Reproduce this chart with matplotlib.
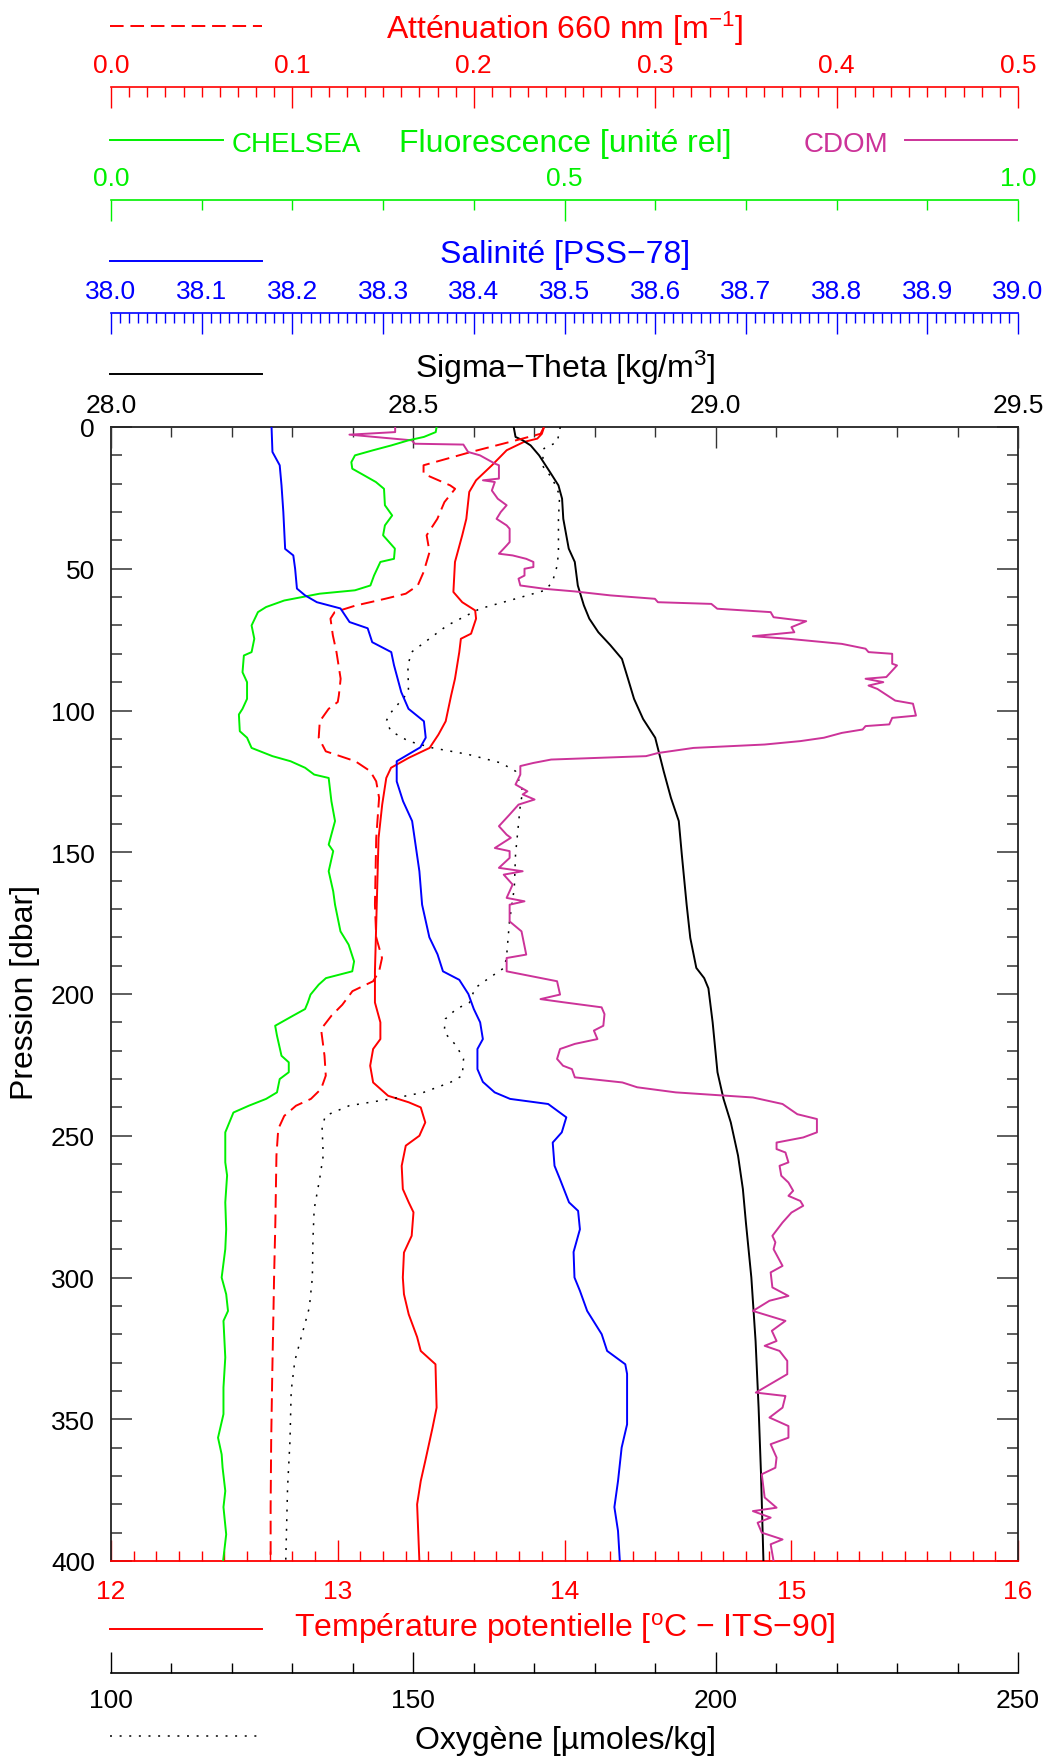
import matplotlib
matplotlib.use('Agg')
import matplotlib.pyplot as plt
from matplotlib.lines import Line2D
from matplotlib.ticker import MultipleLocator, FormatStrFormatter

plt.rcParams['font.family'] = ['Liberation Sans', 'DejaVu Sans']
plt.rcParams['mathtext.fontset'] = 'custom'
plt.rcParams['mathtext.rm'] = 'Liberation Sans'
plt.rcParams['mathtext.it'] = 'Liberation Sans:italic'
plt.rcParams['mathtext.bf'] = 'Liberation Sans:bold'

# --- profile data (pressure in dbar) ---
p_temp = [0, 2.4, 4.1, 5.3, 8.2, 13.5, 18.8, 22.9, 32.4, 38.2, 47.6, 58.2, 61.8, 64.7, 67.6, 72.9, 74.7,
          79.4, 88.8, 94.7, 103.8, 108.5, 113.2, 116.7, 120.2, 123.8, 133.2, 145, 168.5, 192, 203, 210,
          215.9, 219.4, 225.3, 231.2, 235.9, 238.2, 240, 245.3, 250, 253.5, 260.6, 268.8, 273.5, 277,
          285.3, 291.2, 300, 305.9, 313, 321, 325.9, 330.6, 345.9, 353, 364.7, 371.8, 380, 400]
temp = [13.91, 13.90, 13.88, 13.82, 13.745, 13.68, 13.61, 13.58, 13.567, 13.549, 13.517, 13.51, 13.549,
        13.606, 13.61, 13.588, 13.543, 13.536, 13.517, 13.50, 13.476, 13.444, 13.405, 13.313, 13.235,
        13.214, 13.196, 13.18, 13.172, 13.164, 13.164, 13.188, 13.188, 13.156, 13.143, 13.156, 13.222,
        13.313, 13.366, 13.386, 13.36, 13.30, 13.282, 13.287, 13.313, 13.334, 13.326, 13.292, 13.287,
        13.292, 13.313, 13.35, 13.366, 13.431, 13.436, 13.418, 13.386, 13.366, 13.35, 13.36]

p_sal = [0, 8.8, 13.5, 20.6, 30, 43, 45.3, 50, 57, 59.4, 61.8, 64, 68.8, 71, 75.9, 79.4, 84, 93.5, 99.4,
         103.8, 109.6, 113, 117.9, 125, 132, 139, 156.7, 168.5, 180, 186, 192, 195, 198, 200, 205.3, 210,
         215.9, 219.4, 226.5, 231, 234.7, 237, 238.8, 243.5, 248.8, 252.4, 260.6, 265.3, 273.5, 276.5,
         283, 291, 300, 304.7, 311.8, 320, 325.9, 330.6, 334, 351.8, 360, 371.8, 381, 389.4, 400]
sal = [38.177, 38.178, 38.186, 38.188, 38.190, 38.192, 38.201, 38.203, 38.205, 38.214, 38.227, 38.253,
       38.263, 38.283, 38.288, 38.309, 38.312, 38.320, 38.328, 38.345, 38.347, 38.341, 38.315, 38.315,
       38.322, 38.332, 38.340, 38.343, 38.351, 38.360, 38.366, 38.384, 38.390, 38.394, 38.400, 38.407,
       38.410, 38.404, 38.404, 38.410, 38.423, 38.440, 38.482, 38.502, 38.497, 38.487, 38.489, 38.495,
       38.505, 38.515, 38.517, 38.510, 38.511, 38.517, 38.525, 38.541, 38.547, 38.567, 38.569, 38.569,
       38.563, 38.559, 38.555, 38.559, 38.561]

p_sig = [0, 3.5, 4.7, 6.5, 10, 15.9, 20.6, 25.3, 32.4, 42.9, 47.6, 55.9, 62.9, 67.6, 72.4, 77, 81.8, 88.8,
         95.9, 103, 109.6, 121.4, 130.8, 139, 150.8, 168.5, 180.2, 190.8, 194.4, 198, 210, 227.6, 237,
         245.3, 257, 268.8, 280.6, 300, 322.4, 345.9, 369.4, 400]
sigma = [28.666, 28.669, 28.681, 28.694, 28.708, 28.726, 28.740, 28.746, 28.748, 28.757, 28.767, 28.772,
         28.782, 28.791, 28.806, 28.826, 28.845, 28.855, 28.865, 28.880, 28.900, 28.914, 28.926, 28.939,
         28.944, 28.952, 28.958, 28.968, 28.981, 28.988, 28.995, 29.003, 29.013, 29.025, 29.037, 29.045,
         29.050, 29.059, 29.066, 29.071, 29.075, 29.079]

p_oxy = [0, 5.3, 7.6, 13.5, 18.2, 24.1, 32.4, 44.1, 48.8, 54.7, 57.6, 60.6, 64.1, 70, 79.4, 84.1, 93.5,
         98.2, 101.2, 103.8, 107.3, 110.8, 113.2, 115.5, 118.5, 121.4, 128.5, 133.2, 150.8, 162.6, 174.4,
         187.3, 190.8, 194.4, 197.9, 203, 205.3, 208.8, 213.5, 218.2, 222.9, 228.8, 231.2, 234.7, 237,
         239.4, 242.9, 246.5, 257, 265.3, 275.9, 286.5, 300, 310.6, 320, 329.4, 340, 357.6, 374.1, 400]
oxy = [174.3, 173.8, 171.6, 171.3, 173.0, 174.2, 174.0, 174.0, 173.8, 173.0, 171.8, 166.9, 161.0, 155.6,
       149.7, 149.1, 149.2, 147.3, 146.1, 145.5, 146.3, 149.2, 153.2, 159.1, 164.5, 166.9, 168.1, 167.7,
       166.9, 166.7, 165.9, 165.4, 165.0, 162.5, 160.2, 159.3, 157.1, 155.3, 155.1, 157.1, 158.3, 158.1,
       156.1, 151.7, 146.3, 139.4, 135.5, 134.9, 135.1, 134.5, 133.6, 133.4, 133.3, 132.8, 131.6, 130.4,
       129.8, 129.6, 129.2, 128.9]

p_att = [0, 2.4, 5.3, 8.8, 13.5, 16.5, 20.6, 21.8, 26.5, 32.4, 38.2, 44.1, 51.2, 55.9, 58.8, 60.6, 63.0,
         65.3, 67.6, 73.5, 79.4, 88.8, 94.7, 97, 99.4, 103.8, 109.6, 114.4, 117.9, 121.4, 125, 130.8, 145,
         168.5, 180, 187.3, 192, 195.5, 199, 203.8, 207.6, 212.4, 221.8, 228.8, 233.5, 237, 239.4, 243,
         247.6, 257, 280.6, 300, 310.6, 334, 357.6, 381, 400]
att = [0.2387, 0.2368, 0.2197, 0.1985, 0.1723, 0.1723, 0.1870, 0.1897, 0.1838, 0.1799, 0.1740, 0.1756,
       0.1723, 0.1691, 0.1625, 0.1511, 0.1347, 0.1233, 0.1210, 0.1223, 0.1243, 0.1266, 0.1256, 0.125,
       0.1200, 0.1151, 0.1145, 0.1184, 0.1347, 0.1429, 0.1462, 0.1478, 0.1462, 0.1455, 0.1462, 0.1494,
       0.1478, 0.1445, 0.1331, 0.1275, 0.1216, 0.1158, 0.1177, 0.1184, 0.1158, 0.1102, 0.1020, 0.0955,
       0.0922, 0.0912, 0.0906, 0.0899, 0.0896, 0.0889, 0.0883, 0.0880, 0.0880]

p_fluo = [0, 1.8, 3.5, 4.7, 6.5, 8.2, 10, 12.4, 14.7, 16.5, 19.4, 21.8, 27.6, 31.2, 34.7, 38.2, 42.9, 46.5,
          47.6, 52.4, 55.9, 57.6, 58.8, 61.2, 63.5, 65.3, 70, 74.7, 79.4, 80.6, 86.5, 90, 95.9, 99.4,
          101.4, 107.3, 109.6, 113.2, 116.1, 117.9, 120.2, 122.6, 123.8, 132, 139, 147.3, 149.6, 156.7,
          163.8, 168.5, 177.9, 182.6, 188.5, 192, 194.4, 196.7, 200.2, 203, 205.3, 207.6, 211.2, 214.7,
          221.8, 224.1, 227.6, 230, 234.7, 237, 239.4, 241.8, 248.8, 259.4, 264, 273.5, 283, 290, 300,
          305.9, 311.8, 315.3, 328.2, 338.8, 348.2, 356.5, 362.4, 367, 375.3, 381, 390.6, 400]
fluo = [0.359, 0.358, 0.345, 0.328, 0.309, 0.289, 0.269, 0.265, 0.266, 0.276, 0.292, 0.301, 0.302, 0.310,
        0.302, 0.300, 0.313, 0.312, 0.297, 0.290, 0.286, 0.269, 0.230, 0.191, 0.171, 0.162, 0.155, 0.158,
        0.155, 0.1465, 0.145, 0.150, 0.150, 0.145, 0.141, 0.142, 0.150, 0.155, 0.178, 0.198, 0.214,
        0.224, 0.240, 0.243, 0.247, 0.240, 0.245, 0.240, 0.245, 0.247, 0.253, 0.262, 0.268, 0.266, 0.237,
        0.229, 0.220, 0.217, 0.214, 0.201, 0.181, 0.183, 0.188, 0.196, 0.196, 0.186, 0.183, 0.171, 0.152,
        0.135, 0.126, 0.126, 0.128, 0.126, 0.127, 0.126, 0.122, 0.127, 0.129, 0.124, 0.126, 0.124, 0.124,
        0.118, 0.122, 0.123, 0.126, 0.124, 0.127, 0.1236]

p_cdom = [0, 1.8, 2.7, 4.7, 5.9, 6.2, 8.8, 10, 12.9, 13.5, 18.2, 18.8, 19.4, 22.4, 25.3, 27.6, 30, 32.4,
          34.7, 35.9, 40.6, 41.8, 44.7, 45.3, 46.5, 47.6, 49.4, 50, 52.4, 53.5, 55.9, 57.1, 58, 59.4, 60.6,
          61.8, 62.4, 64.1, 65.3, 67.1, 68.5, 70.6, 72.4, 73.8, 74.7, 76.5, 78.2, 79.4, 80, 83.5, 84.1,
          88.2, 88.8, 90, 91.2, 92.4, 96.5, 97.6, 101.8, 102.6, 104.9, 105.5, 106.7, 107.9, 109.6, 110.8,
          112, 113.2, 115, 116.1, 117.3, 118.5, 119.6, 122.6, 126.1, 128.5, 129.6, 131.4, 133.2, 136.7,
          140.8, 143.8, 144.9, 148.5, 149.6, 152, 155.5, 156.7, 157.9, 161.4, 166.1, 167.3, 168.5, 174.4,
          177.9, 186.1, 187.3, 192, 195.5, 200.2, 201.8, 202.9, 204.7, 207.1, 211.2, 212.9, 215.9, 217.6,
          219.4, 222.9, 225.3, 226.5, 229.4, 231.2, 232.9, 234.7, 236.5, 238.8, 242.4, 244.1, 248.8, 250.6,
          252.4, 254.7, 255.9, 259.4, 260.6, 264.1, 266.5, 269.4, 271.2, 273, 274.7, 277.1, 280.6, 285.3,
          287.6, 290, 295.9, 298.2, 303.5, 306.5, 308.2, 311.8, 315.3, 318.8, 322.4, 324.1, 325.9, 329.4,
          334.1, 340.6, 341.8, 345.9, 349.4, 352.4, 356.5, 358.8, 363.5, 367.1, 369.4, 377.6, 381.2, 382.4,
          384.7, 386.5, 390, 392.4, 394.1, 400]
cdom = [0.3133, 0.3133, 0.2629, 0.3316, 0.3349, 0.3885, 0.3937, 0.4068, 0.4232, 0.4277, 0.4277, 0.4101,
        0.4232, 0.4199, 0.4264, 0.4362, 0.4297, 0.4251, 0.4362, 0.4395, 0.4395, 0.4362, 0.4277, 0.4428,
        0.4578, 0.4657, 0.4657, 0.4559, 0.4559, 0.4493, 0.4513, 0.4787, 0.5114, 0.5507, 0.5997, 0.6030,
        0.6619, 0.6684, 0.7273, 0.7305, 0.7665, 0.7502, 0.7534, 0.7077, 0.7469, 0.8058, 0.8319, 0.8352,
        0.8613, 0.8613, 0.8666, 0.8548, 0.8319, 0.8515, 0.8352, 0.8450, 0.8646, 0.8842, 0.8875, 0.8613,
        0.8581, 0.8319, 0.8287, 0.8058, 0.7861, 0.7600, 0.7207, 0.6422, 0.6030, 0.5899, 0.4853, 0.4657,
        0.4513, 0.4513, 0.4460, 0.4591, 0.4539, 0.4670, 0.4493, 0.4395, 0.4277, 0.4362, 0.4408, 0.4232,
        0.4395, 0.4395, 0.4277, 0.4539, 0.4330, 0.4428, 0.4362, 0.4559, 0.4395, 0.4395, 0.4526, 0.4578,
        0.4362, 0.4362, 0.4918, 0.4951, 0.4735, 0.4984, 0.5409, 0.5441, 0.5428, 0.5324, 0.5363, 0.5114,
        0.4951, 0.4918, 0.4984, 0.5082, 0.5114, 0.5638, 0.5801, 0.6226, 0.7077, 0.7404, 0.7567, 0.7783,
        0.7783, 0.7632, 0.7338, 0.7338, 0.7436, 0.7469, 0.7371, 0.7390, 0.7469, 0.7521, 0.7469, 0.7600,
        0.7632, 0.7502, 0.7404, 0.7292, 0.7325, 0.7305, 0.7404, 0.7273, 0.7292, 0.7469, 0.7260, 0.7077,
        0.7436, 0.7286, 0.7338, 0.7207, 0.7371, 0.7456, 0.7456, 0.7109, 0.7436, 0.7404, 0.7260, 0.7469,
        0.7469, 0.7273, 0.7338, 0.7325, 0.7175, 0.7207, 0.7338, 0.7077, 0.7273, 0.7129, 0.7175, 0.7404,
        0.7273, 0.7305]

RED = '#ff0000'
GREEN = '#00f000'
BLUE = '#0000ff'
MAGENTA = '#cc3399'
TS = 19      # tick label size
TT = 23      # axis title size
LW = 1.4

W, H = 1049, 1758
fig = plt.figure(figsize=(W / 100, H / 100), dpi=100)


def fx(px):
    return px / W


def fy(py):
    return 1 - py / H


X0, X1, Y0, Y1 = 111, 1018, 428, 1562
ax = fig.add_axes([fx(X0), fy(Y1), (X1 - X0) / W, (Y1 - Y0) / H])


def scale_bar(y_px, lo, hi, major, minor, color, side='top', fmt='%.1f', pad=7.3):
    b = fig.add_axes([fx(X0), fy(y_px), (X1 - X0) / W, 1e-6])
    b.set_xlim(lo, hi)
    b.patch.set_visible(False)
    b.yaxis.set_visible(False)
    for s in b.spines.values():
        s.set_visible(False)
    b.spines[side].set_visible(True)
    b.spines[side].set_color(color)
    b.spines[side].set_linewidth(1.2)
    b.xaxis.set_ticks_position(side)
    b.xaxis.set_major_locator(MultipleLocator(major))
    b.xaxis.set_minor_locator(MultipleLocator(minor))
    b.xaxis.set_major_formatter(FormatStrFormatter(fmt))
    b.tick_params(axis='x', which='both', direction='in', colors=color, labelsize=TS, pad=pad, width=1)
    b.tick_params(axis='x', which='major', length=15)
    b.tick_params(axis='x', which='minor', length=7)
    return b


def legend_line(x0, x1, y, color, lw=LW, **kw):
    fig.add_artist(Line2D([fx(x0), fx(x1)], [fy(y), fy(y)], transform=fig.transFigure,
                          color=color, lw=lw, **kw))


# scale bars above and below the plot
scale_bar(88, 0, 0.5, 0.1, 0.01, RED)
scale_bar(201, 0, 1.0, 0.5, 0.1, GREEN)
scale_bar(314, 38.0, 39.0, 0.1, 0.01, BLUE)
scale_bar(1674, 100, 250, 50, 10, 'black', side='bottom', fmt='%d', pad=11)

# titles and legend samples
fig.text(fx(565), fy(39), 'Atténuation 660 nm [m$^{-1}$]', ha='center', va='baseline', color=RED, fontsize=TT)
legend_line(110, 262, 27, RED, dashes=(7, 3.5))

fig.text(fx(565), fy(152), 'Fluorescence [unité rel]', ha='center', va='baseline', color=GREEN, fontsize=TT)
fig.text(fx(232), fy(152), 'CHELSEA', ha='left', va='baseline', color=GREEN, fontsize=20)
fig.text(fx(888), fy(152), 'CDOM', ha='right', va='baseline', color=MAGENTA, fontsize=20)
legend_line(110, 223, 141, GREEN)
legend_line(905, 1017, 141, MAGENTA)

fig.text(fx(565), fy(263), 'Salinité [PSS−78]', ha='center', va='baseline', color=BLUE, fontsize=TT)
legend_line(110, 262, 262, BLUE)

fig.text(fx(565), fy(378), 'Sigma−Theta [kg/m$^3$]', ha='center', va='baseline', color='black', fontsize=TT)
legend_line(110, 262, 375, 'black')

fig.text(fx(565), fy(1637), 'Température potentielle [$^{\\rm o}$C − ITS−90]', ha='center', va='baseline',
         color=RED, fontsize=TT)
legend_line(110, 262, 1630, RED)

fig.text(fx(565), fy(1749), 'Oxygène [µmoles/kg]', ha='center', va='baseline', color='black', fontsize=TT)
legend_line(110, 258, 1737, 'black', lw=1.1, dashes=(1.3, 5))

fig.text(fx(25), fy(992), 'Pression [dbar]', ha='center', va='center', rotation=90, fontsize=TT)

# main axes: temperature (bottom) and pressure
ax.set_xlim(12, 16)
ax.set_ylim(400, 0)
for s in ['left', 'right', 'top']:
    ax.spines[s].set_color('#222222')
    ax.spines[s].set_linewidth(1.3)
ax.spines['bottom'].set_color(RED)
ax.spines['bottom'].set_linewidth(1.3)
ax.xaxis.set_major_locator(MultipleLocator(1))
ax.xaxis.set_minor_locator(MultipleLocator(0.1))
ax.yaxis.set_major_locator(MultipleLocator(50))
ax.yaxis.set_minor_locator(MultipleLocator(10))
ax.tick_params(axis='x', which='both', direction='in', colors=RED, labelsize=TS, pad=13, width=1)
ax.tick_params(axis='x', which='major', length=15)
ax.tick_params(axis='x', which='minor', length=7)
ax.tick_params(axis='y', which='both', direction='in', left=True, right=True, labelsize=TS, pad=11.5,
               width=1.1, color='#333333')
ax.tick_params(axis='y', which='major', length=15)
ax.tick_params(axis='y', which='minor', length=8)

# sigma-theta axis on top of the plot
axs = ax.twiny()
axs.set_xlim(28.0, 29.5)
for s in axs.spines.values():
    s.set_visible(False)
axs.xaxis.set_major_locator(MultipleLocator(0.5))
axs.xaxis.set_minor_locator(MultipleLocator(0.1))
axs.xaxis.set_major_formatter(FormatStrFormatter('%.1f'))
axs.tick_params(axis='x', which='both', direction='in', labelsize=TS, pad=7.5, width=1, color='#333333')
axs.tick_params(axis='x', which='major', length=15)
axs.tick_params(axis='x', which='minor', length=7)


def hidden_twin(lo, hi):
    t = ax.twiny()
    t.set_xlim(lo, hi)
    t.set_axis_off()
    return t


ax_ox = hidden_twin(100, 250)
ax_att = hidden_twin(0, 0.5)
ax_fl = hidden_twin(0, 1.0)
ax_sal = hidden_twin(38.0, 39.0)

ax_ox.plot(oxy, p_oxy, color='black', lw=1.1, dashes=(1.3, 5))
ax_fl.plot(cdom, p_cdom, color=MAGENTA, lw=LW)
axs.plot(sigma, p_sig, color='black', lw=LW)
ax_fl.plot(fluo, p_fluo, color=GREEN, lw=LW)
ax_sal.plot(sal, p_sal, color=BLUE, lw=LW)
ax_att.plot(att, p_att, color=RED, lw=LW, dashes=(7, 3.5))
ax.plot(temp, p_temp, color=RED, lw=LW)

fig.savefig('out.png', dpi=100)
